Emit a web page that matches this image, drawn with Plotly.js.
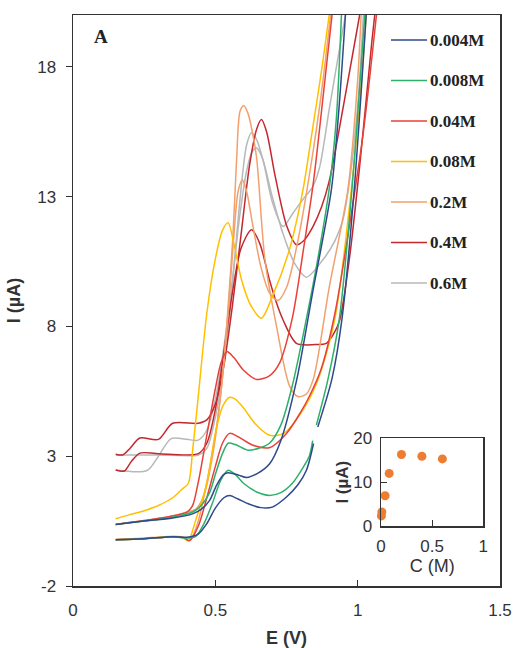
<!DOCTYPE html>
<html><head><meta charset="utf-8">
<script src="https://cdn.plot.ly/plotly-3.0.1.min.js"></script>
<style>html,body{margin:0;padding:0;background:#fff}#chart{width:515px;height:648px}</style>
</head><body><div id="chart"></div>
<script>
// ---- series data (E in V, I in µA) ----
const labels = ["0.004M","0.008M","0.04M","0.08M","0.2M","0.4M","0.6M"];
const colors = ["#2E4A8C","#2DB06A","#E8413A","#FFC000","#F2A06C","#C3282E","#B8B8B8"];
const yTickVals = [-2,3,8,13,18];
const yTickText = ["-2","3","8","13","18"];

const E_004a = [0.15,0.25,0.35,0.42,0.45,0.48,0.505,0.53,0.545,0.58,0.61,0.65,0.69,0.73,0.785,0.84,0.908,0.935,0.957];
const I_004a = [0.37,0.5,0.62,0.78,0.95,1.3,1.9,2.3,2.36,2.28,2.18,2.35,2.7,3.6,5.9,9.2,13.3,16.5,20];
const E_004b = [0.15,0.25,0.35,0.40,0.44,0.47,0.50,0.53,0.55,0.58,0.62,0.66,0.70,0.75,0.79,0.82,0.845,null,0.86,0.91,0.945,0.988,1.03];
const I_004b = [-0.22,-0.18,-0.1,-0.12,0.0,0.4,1.0,1.4,1.49,1.35,1.15,1.02,1.04,1.43,1.9,2.46,3.49,null,4.13,6.0,8.3,13.3,20];

const E_008a = [0.15,0.25,0.35,0.42,0.45,0.48,0.50,0.525,0.545,0.57,0.615,0.65,0.69,0.73,0.77,0.82,0.86,0.90,0.925,0.943];
const I_008a = [0.37,0.5,0.65,0.85,1.1,1.6,2.3,3.1,3.5,3.45,3.23,3.3,3.5,4.2,5.7,8.3,10.6,13.3,16,20];
const E_008b = [0.15,0.25,0.35,0.40,0.43,0.46,0.49,0.52,0.545,0.57,0.60,0.65,0.69,0.73,0.77,0.81,0.83,0.842,null,0.855,0.895,0.935,0.98,1.025];
const I_008b = [-0.22,-0.18,-0.1,-0.15,-0.1,0.4,1.2,2.1,2.46,2.3,1.95,1.6,1.49,1.6,1.95,2.6,3.0,3.6,null,4.2,5.93,8.25,13.3,20];

const E_04a = [0.15,0.25,0.35,0.40,0.42,0.44,0.47,0.50,0.52,0.54,0.565,0.60,0.645,0.69,0.726,0.77,0.81,0.845,0.88,0.91];
const I_04a = [0.37,0.52,0.7,0.85,1.1,2.0,3.8,5.6,6.6,7.03,6.8,6.3,5.96,6.1,6.6,8.3,11.0,13.6,17,20];
const E_04b = [0.15,0.25,0.35,0.385,0.41,0.44,0.47,0.50,0.525,0.55,0.58,0.63,0.69,0.75,0.80,0.83,0.87,0.92,0.97,1.02,1.066];
const I_04b = [-0.22,-0.18,-0.1,-0.12,-0.25,0.3,1.4,2.6,3.5,3.88,3.75,3.43,3.33,3.88,4.7,5.3,6.3,8.5,11.8,15.5,20];

const E_08a = [0.15,0.2,0.25,0.3,0.35,0.38,0.405,0.42,0.44,0.47,0.50,0.525,0.545,0.565,0.592,0.625,0.662,0.70,0.76,0.808,0.84,0.875,0.90];
const I_08a = [0.59,0.75,0.9,1.1,1.4,1.7,1.95,3.2,5.3,8.5,10.6,11.7,12.0,11.2,9.8,8.8,8.32,9.15,10.95,13.27,15.5,18,20];
const E_08b = [0.15,0.25,0.35,0.39,0.405,0.43,0.47,0.50,0.525,0.55,0.57,0.60,0.64,0.69,0.74,0.80,0.86,0.92,0.97,1.01,1.03];
const I_08b = [-0.22,-0.18,-0.1,-0.15,-0.27,0.5,1.95,3.88,4.9,5.27,5.2,4.85,4.25,3.81,3.88,4.65,5.93,8.3,12.5,17,20];

const E_2a = [0.15,0.2,0.25,0.3,0.35,0.38,0.41,0.44,0.47,0.50,0.525,0.545,0.562,0.575,0.587,0.60,0.615,0.63,0.645,0.674,0.715,0.761,0.79,0.82,0.845,0.90,0.966,1.0,1.012];
const I_2a = [-0.2,-0.18,-0.15,-0.12,-0.08,-0.1,-0.25,0.5,2.0,3.8,6.0,8.8,11.5,14.5,16.3,16.5,16.2,15.5,14.5,10.6,8.0,5.7,5.3,5.4,6.0,9.5,13.3,17.5,20];
const E_2b = [0.15,0.25,0.35,0.40,0.43,0.46,0.49,0.52,0.545,0.565,0.58,0.595,0.61,0.63,0.66,0.69,0.72,0.75,0.79,0.84,0.875,0.905];
const I_2b = [0.37,0.52,0.7,0.85,0.95,1.5,3.0,5.5,8.5,11.5,13.2,13.65,13.2,12.0,10.3,9.3,9.0,9.5,11.3,14.5,17.2,20];

const E_4a = [0.15,0.175,0.20,0.235,0.30,0.35,0.44,0.47,0.50,0.53,0.56,0.59,0.62,0.645,0.662,0.68,0.71,0.75,0.785,0.81,0.843,0.873,0.90,0.95,1.007];
const I_4a = [3.08,3.05,3.3,3.7,3.65,4.27,4.27,4.4,5.0,6.5,8.8,11.5,14.2,15.6,15.97,15.5,13.8,11.9,11.15,11.3,11.85,12.6,13.6,16.5,20];
const E_4b = [0.15,0.18,0.205,0.235,0.30,0.44,0.47,0.50,0.53,0.56,0.59,0.627,0.656,0.69,0.715,0.738,0.785,0.85,0.89,0.915,0.937,0.972,1.01,1.05,1.06];
const I_4b = [2.47,2.43,2.8,3.12,3.1,3.1,3.5,4.8,7.0,9.3,11.0,11.73,11.2,9.8,8.9,8.25,7.35,7.3,7.35,7.7,8.25,10.7,14.5,19,20];

const E_6a = [0.15,0.3,0.44,0.47,0.50,0.53,0.555,0.575,0.595,0.61,0.627,0.645,0.67,0.70,0.738,0.773,0.808,0.843,0.867,0.90,0.93,0.957];
const I_6a = [3.05,3.05,3.05,3.3,4.5,6.5,9.0,11.5,13.8,15.0,15.46,15.2,14.3,12.8,11.85,12.37,12.9,13.4,14.17,16.36,18.3,20];
const E_6b = [0.15,0.26,0.30,0.345,0.40,0.44,0.47,0.50,0.53,0.56,0.585,0.61,0.63,0.645,0.665,0.70,0.74,0.78,0.82,0.878,0.92,0.948,0.972,1.0,1.02];
const I_6b = [2.47,2.45,3.0,3.68,3.65,3.62,4.0,5.2,7.2,9.8,12.2,14.0,14.75,14.88,14.5,13.0,11.5,10.4,9.9,10.57,11.3,12.1,13.65,16.5,20];

// inset: peak current vs concentration
const C_inset = [0.004,0.008,0.04,0.08,0.2,0.4,0.6];
const Ip_inset = [2.3,3.2,6.9,12.0,16.3,15.9,15.3];

const curves = [
  [E_004a,I_004a,0],[E_004b,I_004b,0],
  [E_008a,I_008a,1],[E_008b,I_008b,1],
  [E_04a,I_04a,2],[E_04b,I_04b,2],
  [E_08a,I_08a,3],[E_08b,I_08b,3],
  [E_2a,I_2a,4],[E_2b,I_2b,4],
  [E_4a,I_4a,5],[E_4b,I_4b,5],
  [E_6a,I_6a,6],[E_6b,I_6b,6]
];
const order = [12,13,10,11,8,9,6,7,4,5,2,3,0,1];
const traces = order.map(k => {
  const c = curves[k];
  return {x:c[0], y:c[1], type:'scatter', mode:'lines', connectgaps:false,
    line:{color:colors[c[2]], width:1.5, shape:'spline', smoothing:0.8},
    hoverinfo:'skip', showlegend:false, xaxis:'x', yaxis:'y'};
});
traces.push({x:C_inset, y:Ip_inset, type:'scatter', mode:'markers', xaxis:'x2', yaxis:'y2',
  marker:{color:'#ED7D31', size:9}, cliponaxis:false, showlegend:false, hoverinfo:'skip'});

// legend built from labels/colors
const L0 = 73, W = 427, T0 = 15, H = 571;
const px = v => (v - L0) / W, py = v => (T0 + H - v) / H;
const shapes = [], annotations = [];
labels.forEach((lab,i) => {
  const yy = py(40 + i*40.5);
  shapes.push({type:'line', xref:'paper', yref:'paper', x0:px(391), x1:px(427), y0:yy, y1:yy,
    line:{color:colors[i], width:1.6}});
  annotations.push({xref:'paper', yref:'paper', x:px(428), y:yy, xanchor:'left', yanchor:'middle',
    text:'<b>'+lab+'</b>', showarrow:false, font:{family:'Liberation Serif, Times New Roman, serif', size:17, color:'#222'}});
});
annotations.push({xref:'paper', yref:'paper', x:px(92), y:py(37), xanchor:'left', yanchor:'middle',
  text:'<b>A</b>', showarrow:false, font:{family:'Liberation Serif, Times New Roman, serif', size:19, color:'#222'}});

const tf = {family:'Liberation Sans, Arial, sans-serif', size:17, color:'#333'};
const layout = {
  width:515, height:648, margin:{l:73, r:15, t:15, b:62},
  paper_bgcolor:'#fff', plot_bgcolor:'#fff', showlegend:false,
  xaxis:{range:[0,1.5], tickvals:[0,0.5,1,1.5], ticktext:['0','0.5','1','1.5'], ticks:'inside', ticklen:6,
    tickcolor:'#333', showline:true, mirror:true, linecolor:'#333', linewidth:1.5, showgrid:false, zeroline:false,
    tickfont:tf, ticklabelstandoff:8,
    title:{text:'<b>E (V)</b>', font:{family:'Liberation Sans, Arial, sans-serif', size:18, color:'#333'}, standoff:14}},
  yaxis:{range:[-2,20], tickvals:yTickVals, ticktext:yTickText, ticks:'outside', ticklen:6, tickcolor:'#333',
    showline:true, mirror:true, linecolor:'#333', linewidth:1.5, showgrid:false, zeroline:false,
    tickfont:tf, ticklabelstandoff:6,
    title:{text:'<b>I (µA)</b>', font:{family:'Liberation Sans, Arial, sans-serif', size:18, color:'#333'}, standoff:12}},
  xaxis2:{domain:[px(381), px(483.3)], anchor:'y2', range:[0,1], tickvals:[0,0.5,1], ticktext:['0','0.5','1'], ticks:'inside', ticklen:6,
    tickcolor:'#333', showline:true, mirror:true, linecolor:'#333', linewidth:1.5, showgrid:false, zeroline:false,
    tickfont:tf, ticklabelstandoff:4,
    title:{text:'C (M)', font:{family:'Liberation Sans, Arial, sans-serif', size:18, color:'#333'}, standoff:0}},
  yaxis2:{domain:[py(526), py(438.3)], anchor:'x2', range:[0,20], tickvals:[0,10,20], ticks:'inside', ticklen:6,
    tickcolor:'#333', showline:true, mirror:true, linecolor:'#333', linewidth:1.5, showgrid:false, zeroline:false,
    tickfont:tf, ticklabelstandoff:4,
    title:{text:'<b>I (µA)</b>', font:{family:'Liberation Sans, Arial, sans-serif', size:17, color:'#333'}, standoff:0}},
  shapes:shapes, annotations:annotations
};
Plotly.newPlot('chart', traces, layout, {staticPlot:true, displayModeBar:false});
</script></body></html>
